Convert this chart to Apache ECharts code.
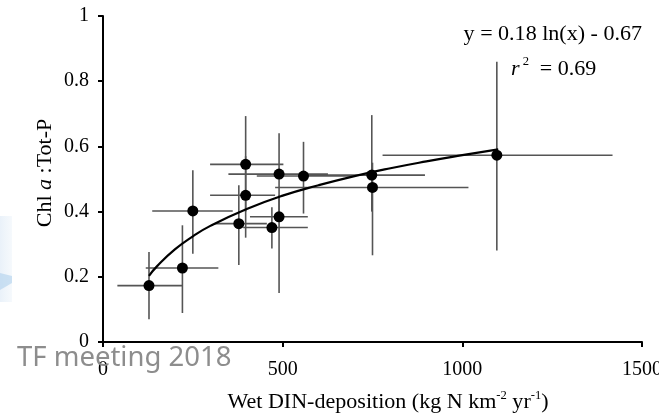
<!DOCTYPE html>
<html>
<head>
<meta charset="utf-8">
<script src="https://cdn.jsdelivr.net/npm/echarts@6/dist/echarts.min.js"></script>
<style>html,body{margin:0;padding:0;background:#fff;}#c{width:659px;height:416px;}</style>
</head>
<body>
<div id="c"></div>
<script>
// ---- data ----
var depX   = [128, 221, 250, 378, 397, 397, 470, 490, 490, 558, 748, 750, 1096];
var ratioY = [0.173, 0.227, 0.402, 0.363, 0.450, 0.545, 0.351, 0.384, 0.515, 0.509, 0.512, 0.474, 0.573];
var xLow   = [40, 119, 137, 312, 298, 298, 390, 409, 349, 428, 560, 479, 778];
var xHigh  = [221, 321, 361, 456, 479, 502, 570, 570, 626, 690, 896, 1017, 1418];
var yLow   = [0.070, 0.089, 0.271, 0.236, 0.320, 0.400, 0.287, 0.150, 0.400, 0.394, 0.400, 0.266, 0.281];
var yHigh  = [0.276, 0.358, 0.527, 0.481, 0.570, 0.693, 0.413, 0.450, 0.640, 0.614, 0.696, 0.550, 0.860];
// fitted curve (y = 0.18 ln(x) - 0.67)
var fitX = [128, 150, 200, 250, 300, 400, 500, 600, 700, 800, 900, 1000, 1100];
var fitY = [0.203, 0.232, 0.284, 0.324, 0.357, 0.408, 0.449, 0.481, 0.509, 0.533, 0.554, 0.573, 0.591];
var xTicks = [0, 500, 1000, 1500];
var yTicks = [0, 0.2, 0.4, 0.6, 0.8, 1];

var points = depX.map(function (x, i) { return [x, ratioY[i]]; });
var errData = depX.map(function (x, i) { return [x, ratioY[i], xLow[i], xHigh[i], yLow[i], yHigh[i]]; });
var fitData = fitX.map(function (x, i) { return [x, fitY[i]]; });

var serif = 'Liberation Serif, Times New Roman, serif';
var chart = echarts.init(document.getElementById('c'));
chart.setOption({
  animation: false,
  backgroundColor: '#fff',
  grid: { left: 103, right: 17, top: 16, bottom: 74, containLabel: false, outerBoundsMode: 'none' },
  xAxis: {
    type: 'value', min: xTicks[0], max: xTicks[xTicks.length - 1], interval: 500,
    splitLine: { show: false },
    axisLine: { lineStyle: { color: '#000', width: 2 } },
    axisTick: { show: true, length: 5, lineStyle: { color: '#000', width: 2 } },
    axisLabel: { color: '#000', fontFamily: serif, fontSize: 20, margin: 18,
      formatter: function (v) { return String(v); } }
  },
  yAxis: {
    type: 'value', min: yTicks[0], max: yTicks[yTicks.length - 1], interval: 0.2,
    splitLine: { show: false },
    axisLine: { show: true, lineStyle: { color: '#000', width: 2 } },
    axisTick: { show: true, length: 5, lineStyle: { color: '#000', width: 2 } },
    axisLabel: { color: '#000', fontFamily: serif, fontSize: 20, margin: 14,
      formatter: function (v) { return String(v); } }
  },
  graphic: [
    { type: 'rect', shape: { x: 0, y: 216, width: 12, height: 86 }, z: -10,
      style: { fill: new echarts.graphic.LinearGradient(0, 0, 1, 0, [
        { offset: 0, color: 'rgba(228,238,248,0.8)' },
        { offset: 1, color: 'rgba(236,243,250,0.5)' }]) } },
    { type: 'polygon', shape: { points: [[0, 273], [12, 276], [12, 283], [0, 290]] }, z: -9,
      style: { fill: 'rgba(175,208,236,0.6)' } },
    { type: 'text', x: 45, y: 173, rotation: Math.PI / 2, z: 10,
      style: { text: '{n|Chl }{i|a}{n| :Tot-P}', align: 'center', verticalAlign: 'middle',
        rich: { n: { fontFamily: serif, fontSize: 22, fill: '#000' },
                i: { fontFamily: serif, fontSize: 22, fontStyle: 'italic', fill: '#000' } } } },
    { type: 'text', x: 388, y: 402, z: 10, scaleX: 1.05,
      style: { text: '{n|Wet DIN-deposition (kg N km}{s|-2}{n| yr}{s|-1}{n|)}', align: 'center', verticalAlign: 'middle',
        rich: { n: { fontFamily: serif, fontSize: 21, fill: '#000' },
                s: { fontFamily: serif, fontSize: 12, fill: '#000', padding: [0, 0, 12, 0] } } } },
    { type: 'text', x: 642, y: 34, z: 10, scaleX: 1.05,
      style: { text: 'y = 0.18 ln(x) - 0.67', align: 'right', verticalAlign: 'middle',
        fontFamily: serif, fontSize: 21, fill: '#000' } },
    { type: 'text', x: 511, y: 69, z: 10, scaleX: 1.05,
      style: { text: '{i|r}{s|2}{n| = 0.69}', align: 'left', verticalAlign: 'middle',
        rich: { n: { fontFamily: serif, fontSize: 21, fill: '#000' },
                i: { fontFamily: serif, fontSize: 21, fontStyle: 'italic', fill: '#000' },
                s: { fontFamily: serif, fontSize: 12, fill: '#000', padding: [0, 5, 14, 3] } } } },
    { type: 'text', x: 17, y: 358, z: 100,
      style: { text: 'TF meeting 2018', align: 'left', verticalAlign: 'middle',
        fontFamily: 'Noto Sans, Open Sans, sans-serif', fontSize: 27.5, fill: 'rgba(135,135,135,0.95)' } }
  ],
  series: [
    {
      type: 'custom', z: 1, clip: false,
      encode: { x: 0, y: 1 },
      data: errData,
      renderItem: function (params, api) {
        var x = api.value(0), y = api.value(1);
        var l = api.coord([api.value(2), y]), r = api.coord([api.value(3), y]);
        var b = api.coord([x, api.value(4)]), t = api.coord([x, api.value(5)]);
        var st = { stroke: '#555', lineWidth: 1.6 };
        return { type: 'group', children: [
          { type: 'line', shape: { x1: l[0], y1: l[1], x2: r[0], y2: r[1] }, style: st },
          { type: 'line', shape: { x1: t[0], y1: t[1], x2: b[0], y2: b[1] }, style: st }
        ] };
      }
    },
    {
      type: 'line', z: 2, data: fitData, smooth: true, showSymbol: false,
      lineStyle: { color: '#000', width: 2.2 }
    },
    {
      type: 'scatter', z: 3, data: points, symbol: 'circle', symbolSize: 11,
      itemStyle: { color: '#000', opacity: 1 }
    }
  ]
});
</script>
</body>
</html>
